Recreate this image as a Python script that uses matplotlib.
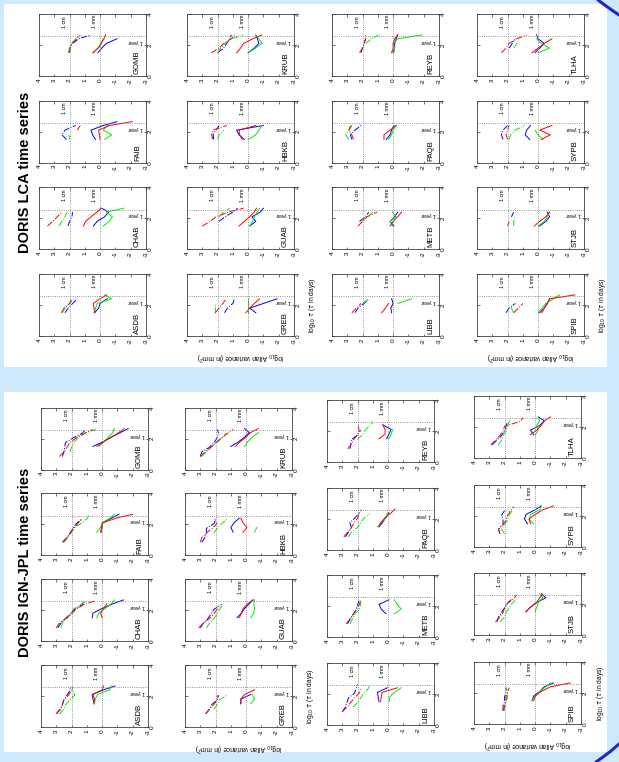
import numpy as np
import matplotlib
matplotlib.use("Agg")
import matplotlib.pyplot as plt
from matplotlib.lines import Line2D
from matplotlib.patches import Rectangle

plt.rcParams['font.family'] = ['Liberation Sans', 'DejaVu Sans']
plt.rcParams['axes.unicode_minus'] = False

nan = np.nan
# ---------------- data ----------------
STATION_ROWS = [["ASDB", "CHAB", "FAIB", "GOMB"],
                ["GREB", "GUAB", "HBKB", "KRUB"],
                ["LIBB", "METB", "PAQB", "REYB"],
                ["SPIB", "STJB", "SYPB", "TLHA"]]
COLORS = ["#0000ff", "#00ee00", "#ff0000"]   # blue, green, red
YTICKS = list(range(-3, 5))
XTICKS = [0, 2, 4]
ONE_YEAR = np.log10(365.25)

TAU_LCA = [1.5, 1.8, 2.1, 2.4, 2.65]
TAU_IGN_DD = [0.85, 1.15, 1.45, 1.75, 2.05, 2.35, 2.6]
TAU_IGN_S = [1.5, 1.8, 2.1, 2.4, 2.65]

# each entry: [blue, green, red]
lca_solid = {
    "GOMB": [[0.15, -0.1, -0.4, -1.1, nan], [0.5, 0.1, -0.1, -0.2, nan], [0.45, 0.15, -0.05, -0.25, -0.35]],
    "FAIB": [[0.3, 0.5, 0.6, -0.2, -1.1], [-0.3, -0.75, -0.2, -0.5, nan], [0.0, 0.05, 0.1, -0.6, -2.1]],
    "CHAB": [[0.45, 0.2, -0.3, -0.55, -0.1], [-0.2, -0.6, -0.8, -0.4, -1.55], [1.1, 0.95, 0.6, 0.2, -0.05]],
    "ASDB": [[0.36, 0.1, 0.0, -0.46, nan], [0.4, 0.3, 0.2, -0.75, -0.3], [0.35, 0.4, 0.46, 0.0, -0.42]],
    "KRUB": [[0.0, -0.4, -0.7, -0.6, -0.5], [0.0, -0.5, -0.9, -0.7, -0.5], [0.75, 0.5, 0.3, -0.3, -0.9]],
    "HBKB": [[0.25, 0.6, 0.75, -1.0, nan], [0.0, -0.5, -0.7, -0.9, nan], [0.4, 0.55, 0.6, -0.5, nan]],
    "GUAB": [[-0.1, -0.5, -0.25, -0.8, -1.0], [-0.1, -0.3, -0.4, -0.6, -0.75], [0.6, 0.25, -0.1, -0.4, -0.55]],
    "GREB": [[-0.5, -0.1, -1.0, -1.9, nan], [0.0, 0.0, 0.0, 0.0, nan], [0.15, -0.1, -0.4, -0.75, nan]],
    "REYB": [[0.0, -0.1, -0.1, -0.2, -0.3], [-0.05, -0.1, 0.0, -0.3, -1.9], [0.1, 0.0, 0.0, -0.1, -0.3]],
    "PAQB": [[0.45, 0.2, 0.1, -0.05, nan], [0.3, 0.1, 0.0, -0.2, nan], [0.6, 0.6, 0.2, -0.2, nan]],
    "METB": [[-0.05, 0.2, -0.1, -0.3, nan], [0.05, 0.2, -0.2, 0.05, nan], [0.2, 0.0, -0.3, -0.55, nan]],
    "LIBB": [[0.1, 0.15, 0.0, 0.1, nan], [nan, nan, -0.3, -1.2, nan], [0.75, 0.5, 0.3, nan, nan]],
    "TLHA": [[0.2, -0.1, -0.4, 0.0, 0.1], [0.0, -0.75, -0.2, 0.1, nan], [0.4, 0.0, -0.4, -0.9, nan]],
    "SYPB": [[0.55, 0.85, 0.75, 0.5, nan], [-0.3, 0.0, 0.2, nan, nan], [-0.2, -0.8, -0.1, -0.9, nan]],
    "STJB": [[-0.1, -0.5, -0.75, -0.6, nan], [0.0, -0.4, -0.6, -0.75, nan], [0.25, -0.1, -0.5, -0.75, nan]],
    "SPIB": [[-0.1, -0.4, -0.6, -0.75, nan], [0.0, -0.25, -0.5, -1.0, -1.4], [-0.25, -0.4, -0.6, -0.75, -2.4]],
}
lca_dashdot = {
    "GOMB": [[2.05, 2.0, 1.8, 1.4, 0.6], [2.05, 2.0, 1.9, 1.6, 1.35], [2.0, 1.95, 1.85, 1.5, 1.3]],
    "FAIB": [[2.2, 2.5, 2.3, 1.6, nan], [2.0, 2.05, nan, nan, nan], [nan, nan, 1.5, 1.3, nan]],
    "CHAB": [[2.1, 2.0, 1.85, 1.8, nan], [2.7, 2.5, 2.3, 2.15, nan], [3.45, 3.1, 2.8, 2.5, nan]],
    "ASDB": [[2.3, 2.1, 1.8, 1.5, nan], [2.45, 2.4, 2.0, 1.9, nan], [2.55, 2.3, 2.0, 1.75, nan]],
    "KRUB": [[2.0, 1.6, 1.4, 1.2, 1.1], [2.0, 1.8, 1.5, 1.1, 0.3], [2.4, 1.9, 1.6, 1.1, 0.9]],
    "HBKB": [[2.25, 2.3, 2.1, 1.9, nan], [2.0, 1.9, 1.6, nan, nan], [2.3, 2.4, 2.3, 1.4, nan]],
    "GUAB": [[nan, 1.9, 1.5, 1.0, 0.7], [nan, nan, 1.9, 1.6, 1.2], [3.0, 2.5, 2.1, 1.3, 0.3]],
    "GREB": [[1.55, 1.35, 1.0, 0.9, nan], [2.2, 2.2, 2.2, nan, nan], [2.15, 1.9, 1.65, 1.45, nan]],
    "REYB": [[2.1, 2.0, 1.9, 1.8, nan], [nan, nan, 1.8, 1.4, 0.95], [2.2, 2.0, 1.9, 1.8, 1.8]],
    "PAQB": [[2.7, 2.8, 2.5, 2.1, nan], [2.9, 3.1, 2.9, 2.8, nan], [2.6, 2.7, 2.9, 2.7, nan]],
    "METB": [[nan, 2.2, 1.8, 1.6, nan], [nan, 2.1, 1.7, 1.3, nan], [2.3, 2.0, 1.7, 1.05, nan]],
    "LIBB": [[2.5, 2.3, 1.9, 1.6, nan], [nan, nan, 2.0, 1.6, nan], [2.7, 2.4, 2.1, nan, nan]],
    "TLHA": [[nan, 1.9, 1.7, 1.5, nan], [nan, 1.6, 1.4, 1.25, nan], [2.4, 2.1, 1.9, 1.4, 0.75]],
    "SYPB": [[2.3, 2.4, 2.3, 2.0, nan], [1.9, 1.8, 1.5, 0.9, nan], [2.0, 2.1, 2.0, 1.9, nan]],
    "STJB": [[nan, nan, 1.75, 1.6, nan], [1.6, 1.6, 1.5, nan, nan], [2.0, 1.9, nan, nan, nan]],
    "SPIB": [[2.1, 1.9, 1.5, nan, nan], [1.6, 1.75, 1.5, nan, nan], [1.6, 1.3, 1.0, nan, nan]],
}
ign_solid = {
    "GOMB": [[0.6, -0.05, -0.6, -1.2, -1.7], [0.2, -0.1, -0.4, -0.7, -0.8], [0.35, -0.1, -0.6, -1.1, -1.45]],
    "FAIB": [[0.1, 0.0, 0.0, -0.6, -1.1], [0.35, 0.1, 0.0, -0.5, -0.8], [0.05, 0.05, -0.05, -0.9, -2.0]],
    "CHAB": [[0.65, 0.6, 0.0, -0.7, -1.4], [0.35, 0.2, -0.2, -0.6, -0.8], [0.0, 0.1, -0.1, -0.3, nan]],
    "ASDB": [[0.5, 0.6, 0.65, -0.1, -0.85], [0.5, 0.45, 0.3, -0.5, -0.6], [0.55, 0.5, 0.6, 0.0, -0.1]],
    "KRUB": [[1.0, 0.5, 0.1, -0.2, 0.1], [0.1, -0.1, -0.4, -0.8, nan], [0.7, 0.4, 0.0, -0.3, -0.8]],
    "HBKB": [[0.85, 1.0, 0.8, 0.45, nan], [-0.55, -0.7, nan, nan, nan], [0.2, -0.05, 0.2, 0.35, nan]],
    "GUAB": [[0.6, 0.3, 0.1, -0.2, -0.45], [-0.3, -0.5, -0.55, -0.5, -0.55], [0.45, 0.3, 0.2, -0.1, -0.45]],
    "GREB": [[0.35, 0.35, -0.3, nan, nan], [-0.3, -0.55, -0.4, nan, nan], [0.35, 0.35, 0.1, -0.55, nan]],
    "REYB": [[0.1, -0.05, -0.2, 0.35, nan], [-0.05, -0.2, -0.3, nan, nan], [0.6, 0.2, 0.2, 0.35, nan]],
    "PAQB": [[0.6, 0.35, 0.15, -0.05, nan], [0.7, 0.45, 0.1, 0.05, nan], [0.6, 0.45, 0.2, -0.2, -0.45]],
    "METB": [[0.15, 0.45, 0.6, -0.05, nan], [-0.4, -0.85, -0.6, -0.4, nan], [nan, nan, nan, nan, nan]],
    "LIBB": [[0.6, 0.65, 0.7, 0.05, nan], [-0.05, -0.1, -0.4, -0.85, nan], [0.5, 0.45, 0.4, -0.6, nan]],
    "TLHA": [[0.1, 0.3, -0.3, -0.6, -0.2], [0.0, -0.2, -0.1, -0.3, -0.2], [0.3, -0.1, -0.4, -0.6, -1.0]],
    "SYPB": [[0.5, 0.7, 0.6, 0.0, -0.4], [0.1, 0.4, 0.3, -0.3, -0.4], [0.3, 0.4, 0.0, -0.5, -1.2]],
    "STJB": [[0.6, 0.3, -0.1, -0.7, -0.4], [0.0, -0.1, -0.2, -0.5, -0.3], [0.6, 0.3, -0.1, -0.3, -0.5]],
    "SPIB": [[0.2, 0.1, -0.3, -0.6, -1.2], [0.2, 0.0, -0.3, -0.7, -1.0], [0.1, 0.0, -0.4, -1.0, -2.3]],
}
ign_dashdot = {
    "GOMB": [[2.6, 2.5, 2.45, 2.4, 1.9, 1.3, 1.1], [nan, 2.1, 2.0, 1.85, 1.6, 1.2, 0.4], [2.8, 2.5, 2.3, 2.1, 1.7, 1.1, 0.6]],
    "FAIB": [[2.6, 2.3, 2.1, 1.9, 1.7, 1.3, nan], [2.5, 2.25, 2.05, 1.85, 1.4, 1.0, 0.85], [2.55, 2.3, 2.05, 1.85, 1.6, 1.35, nan]],
    "CHAB": [[2.9, 2.7, 2.4, 2.1, 1.8, 1.3, 1.2], [2.7, 2.6, 2.3, 2.0, 1.9, 1.4, 1.0], [3.0, 2.8, 2.4, 2.0, 1.7, 1.2, 0.45]],
    "ASDB": [[3.0, 2.75, 2.6, 2.5, 2.3, 2.1, 2.1], [2.8, 2.5, 2.4, 2.1, 1.8, 1.9, 2.0], [3.0, 2.7, 2.6, 2.5, 2.2, 2.0, 1.9]],
    "KRUB": [[3.0, 2.9, 2.4, 2.1, 1.9, 1.8, 1.9], [2.9, 2.6, 2.3, 1.9, 1.6, 1.3, nan], [3.0, 2.7, 2.3, 2.0, 1.6, 1.2, 0.85]],
    "HBKB": [[2.9, 2.7, 2.6, 2.6, 2.1, 2.0, nan], [nan, nan, 2.1, 1.9, 1.6, 1.25, nan], [3.0, 2.9, 2.6, 2.2, 1.9, 2.1, nan]],
    "GUAB": [[3.0, 2.8, 2.5, 2.3, 2.1, 1.6, nan], [2.6, 2.4, 2.1, 1.9, 1.75, 1.5, nan], [3.1, 2.8, 2.4, 2.1, 1.9, 1.8, nan]],
    "GREB": [[2.65, 2.4, 2.25, 1.9, 1.8, nan, nan], [nan, 2.1, 1.9, 1.75, 1.25, nan, nan], [2.65, 2.4, 2.1, 1.9, 1.9, nan, nan]],
    "REYB": [[2.5, 2.45, 2.4, 2.0, 1.8, nan, nan], [nan, nan, 2.0, 1.7, 1.5, 1.2, 1.0], [2.65, 2.4, 2.25, 2.0, 1.9, 1.95, nan]],
    "PAQB": [[2.8, 2.6, 2.4, 2.5, 2.2, 1.9, nan], [2.6, 2.4, 2.0, 1.8, 1.6, 1.2, nan], [2.9, 2.65, 2.4, 2.25, 2.0, 1.9, 1.75]],
    "METB": [[2.65, 2.5, 2.3, 2.1, 2.0, 1.9, nan], [2.5, 2.35, 2.2, 1.9, 1.8, 1.8, nan], [2.75, 2.5, 2.3, 2.1, 1.9, 1.8, nan]],
    "LIBB": [[3.0, 2.8, 2.7, 2.6, 2.2, 2.1, 2.0], [nan, 2.3, 2.0, 1.8, 1.6, 1.3, 1.2], [3.0, 2.7, 2.45, 2.2, 1.9, 1.8, nan]],
    "TLHA": [[2.8, 2.5, 2.2, 2.0, 1.9, 1.8, nan], [2.4, 2.2, 2.1, 1.9, 1.8, 1.7, 1.6], [2.9, 2.6, 2.3, 2.1, 2.0, 1.0, 0.8]],
    "SYPB": [[2.3, 2.4, 2.1, 2.1, 2.2, 2.0, nan], [2.0, 2.2, 2.0, 1.8, 1.7, 1.5, nan], [2.3, 2.4, 2.1, 1.9, 1.8, 1.6, 1.4]],
    "STJB": [[2.5, 2.4, 2.2, 2.0, 1.8, 1.5, nan], [2.3, 2.0, 1.9, 1.7, 1.5, 1.2, nan], [2.6, 2.3, 2.1, 2.0, 1.8, 1.4, 1.2]],
    "SPIB": [[2.1, 2.1, 2.0, 2.0, 1.9, 1.9, nan], [2.0, 2.0, 1.9, 1.8, 1.8, 1.9, nan], [2.1, 2.0, 1.9, 1.9, 1.8, 1.7, nan]],
}

# ---------------- layout ----------------
W, H = 619, 762
BG = "#cde9fb"
fig = plt.figure(figsize=(W / 100, H / 100), dpi=100, facecolor=BG)

def px_rect(x, y, w, h):
    return [x / W, 1 - (y + h) / H, w / W, h / H]

# white panels
for (x0, y0, x1, y1) in [(4, 4, 607, 367), (4, 392, 607, 752)]:
    fig.add_artist(Rectangle((x0 / W, 1 - y1 / H), (x1 - x0) / W, (y1 - y0) / H,
                             transform=fig.transFigure, facecolor="white", edgecolor="none", zorder=0))

# decorative blue curves at right corners
fig.add_artist(Line2D(np.array([598, 604, 611, 619]) / W, 1 - np.array([0, 4.5, 9.5, 15]) / H,
                      transform=fig.transFigure, color="#2424c8", lw=2.2, solid_capstyle="round"))
fig.add_artist(Line2D(np.array([596, 603, 611, 619]) / W, 1 - np.array([762, 757, 751, 744]) / H,
                      transform=fig.transFigure, color="#2424c8", lw=2.2, solid_capstyle="round"))

BW, BH = 107, 62
LCA_COLS = [39, 187, 332, 477]
LCA_ROWS = [[14, 100.7, 187.3, 274]] * 4
IGN_COLS = [41, 185, 327, 474]
IGN_ROWS = [[407.7, 493.4, 579, 665], [407.7, 493.4, 579, 665],
            [400, 488, 575, 663], [396, 485, 573, 662]]

def draw_cell(x, y, name, solid, tau_s, dashdot, tau_d, xlab, ylab):
    ax = fig.add_axes(px_rect(x, y, BW, BH))
    for vals, c in zip(solid[name], COLORS):
        ax.plot(vals, tau_s, "-", color=c, lw=0.7)
    for vals, c in zip(dashdot[name], COLORS):
        ax.plot(vals, tau_d, "-.", color=c, lw=0.7)
    for v in (2, 0):
        ax.axvline(v, ls=":", color="0.45", lw=0.6)
    ax.axhline(ONE_YEAR, ls=":", color="0.45", lw=0.6)
    ax.set_xlim(4, -3)
    ax.set_ylim(0, 4)
    ax.set_xticks(YTICKS)
    ax.set_xticklabels([str(t) for t in YTICKS], rotation=90, va="top", ha="center")
    ax.set_yticks(XTICKS)
    ax.set_yticklabels([str(t) for t in XTICKS], rotation=90, va="center", ha="left")
    ax.tick_params(axis="both", direction="in", labelsize=4.6, length=1.8, width=0.4, pad=1.5,
                   top=True, right=True, left=True, bottom=True,
                   labelleft=False, labelright=True, labeltop=False, labelbottom=True)
    for s in ax.spines.values():
        s.set_linewidth(0.6)
        s.set_color("0.25")
    ax.text(2.35, 3.5, "1 cm", rotation=90, fontsize=3.8, ha="center", va="center")
    ax.text(0.35, 3.5, "1 mm", rotation=90, fontsize=3.8, ha="center", va="center")
    ax.text(-2.35, 2.22, "1 year", rotation=180, fontsize=3.8, ha="center", va="center")
    ax.text(-2.45, 0.12, name, rotation=90, fontsize=5.6, ha="center", va="bottom")
    if xlab:
        fig.text((x + BW + 19) / W, 1 - (y + BH / 2) / H, r"log$_{10}$ $\tau$ ($\tau$ in days)",
                 rotation=90, fontsize=4.8, ha="center", va="center")
    if ylab:
        fig.text((x + BW / 2) / W, 1 - (y + BH + 20) / H, r"log$_{10}$ Allan variance (in mm$^2$)",
                 rotation=180, fontsize=4.8, ha="center", va="center")
    return ax

def draw_panel(cols, rows, solid, tau_s, dashdot, tau_d):
    for c in range(4):
        for r in range(4):
            name = STATION_ROWS[c][3 - r]
            lab = (c in (1, 3)) and r == 3
            draw_cell(cols[c], rows[c][r], name, solid, tau_s, dashdot, tau_d, lab, lab)

draw_panel(LCA_COLS, LCA_ROWS, lca_solid, TAU_LCA, lca_dashdot, TAU_LCA)
draw_panel(IGN_COLS, IGN_ROWS, ign_solid, TAU_IGN_S, ign_dashdot, TAU_IGN_DD)

fig.text(25 / W, 1 - 172 / H, "DORIS LCA time series", rotation=90, fontsize=10.5,
         fontweight="bold", ha="center", va="center")
fig.text(25 / W, 1 - 562 / H, "DORIS IGN-JPL time series", rotation=90, fontsize=10.5,
         fontweight="bold", ha="center", va="center")

fig.savefig("out.png", dpi=100, facecolor=BG)
